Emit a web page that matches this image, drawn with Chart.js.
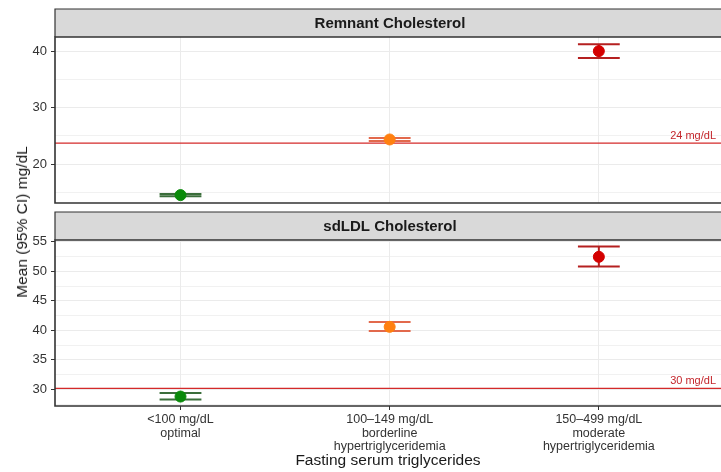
<!DOCTYPE html>
<html>
<head>
<meta charset="utf-8">
<script src="https://cdn.jsdelivr.net/npm/chart.js@4.4.0/dist/chart.umd.min.js"></script>
<style>
  html, body { margin:0; padding:0; background:#fff; }
  #wrap { position:relative; width:721px; height:472px; overflow:hidden; font-family:"Liberation Sans", Arial, sans-serif; }
  #topBox { position:absolute; left:0; top:0; width:721px; height:207px; }
  #botBox { position:absolute; left:0; top:207px; width:721px; height:265px; }
  #ytitle { position:absolute; left:22px; top:222px; transform:translate(-50%,-50%) rotate(-90deg); font-size:15.5px; color:#1a1a1a; white-space:nowrap; }
</style>
</head>
<body>
<div id="wrap">
  <div id="topBox"><canvas id="topChart"></canvas></div>
  <div id="botBox"><canvas id="botChart"></canvas></div>
  <div id="ytitle">Mean (95% CI) mg/dL</div>
</div>
<script>
// categories (x = 1, 2, 3)
const categories = [
  ['<100 mg/dL', 'optimal'],
  ['100\u2013149 mg/dL', 'borderline', 'hypertriglyceridemia'],
  ['150\u2013499 mg/dL', 'moderate', 'hypertriglyceridemia']
];
const pointColors = ['#0a8a0a', '#ff8010', '#d40000'];
const barColors = ['#3b6e3b', '#e2694c', '#b52020'];

// Remnant cholesterol: mean, lower, upper
const remnantMean = [14.5, 24.35, 40.0];
const remnantLow  = [14.3, 24.1, 38.8];
const remnantHigh = [14.7, 24.6, 41.2];
const remnantRef = 23.7;
const remnantRefLabel = '24 mg/dL';

// sdLDL cholesterol
const sdldlMean = [28.8, 40.6, 52.45];
const sdldlLow  = [28.3, 39.9, 50.8];
const sdldlHigh = [29.4, 41.4, 54.2];
const sdldlRef = 30.2;
const sdldlRefLabel = '30 mg/dL';

const FONT = '"Liberation Sans", Arial, sans-serif';

function isMajor(v, major) {
  return Math.abs(v / major - Math.round(v / major)) < 1e-6;
}

// strip, panel border, reference line, error bars
const panelPlugin = {
  id: 'panel',
  beforeDatasetsDraw(chart, args, opts) {
    const ctx = chart.ctx, a = chart.chartArea;
    const xs = chart.scales.x, ys = chart.scales.y;
    ctx.save();
    // reference line
    const ry = ys.getPixelForValue(opts.ref);
    ctx.strokeStyle = '#d42a2a'; ctx.lineWidth = 1.2;
    ctx.beginPath(); ctx.moveTo(a.left, ry); ctx.lineTo(a.right, ry); ctx.stroke();
    ctx.fillStyle = '#c4262c';
    ctx.font = '11px ' + FONT;
    ctx.textAlign = 'right'; ctx.textBaseline = 'alphabetic';
    ctx.fillText(opts.refLabel, a.right - 5, ry - 4);
    // error bars
    opts.mean.forEach((m, i) => {
      const x = xs.getPixelForValue(i + 1);
      const hw = xs.getPixelForValue(1.1) - xs.getPixelForValue(1);
      const yl = ys.getPixelForValue(opts.low[i]);
      const yh = ys.getPixelForValue(opts.high[i]);
      ctx.strokeStyle = barColors[i]; ctx.lineWidth = 2;
      ctx.beginPath();
      ctx.moveTo(x - hw, yh); ctx.lineTo(x + hw, yh);
      ctx.moveTo(x - hw, yl); ctx.lineTo(x + hw, yl);
      ctx.moveTo(x, yh); ctx.lineTo(x, yl);
      ctx.stroke();
    });
    ctx.restore();
  },
  afterDraw(chart, args, opts) {
    const ctx = chart.ctx, a = chart.chartArea;
    ctx.save();
    // strip
    const sTop = a.top - opts.stripH;
    ctx.fillStyle = '#d9d9d9';
    ctx.fillRect(a.left, sTop, a.right - a.left + 10, opts.stripH);
    ctx.strokeStyle = '#333'; ctx.lineWidth = 1.2;
    ctx.beginPath();
    ctx.moveTo(a.right + 10, sTop); ctx.lineTo(a.left, sTop); ctx.lineTo(a.left, a.top);
    ctx.stroke();
    ctx.fillStyle = '#1a1a1a';
    ctx.font = 'bold 15px ' + FONT;
    ctx.textAlign = 'center'; ctx.textBaseline = 'middle';
    ctx.fillText(opts.title, (a.left + a.right + 4) / 2, sTop + opts.stripH / 2 + 1);
    // panel border
    ctx.lineWidth = 1.6;
    ctx.beginPath();
    ctx.moveTo(a.right + 10, a.top); ctx.lineTo(a.left, a.top);
    ctx.lineTo(a.left, a.bottom); ctx.lineTo(a.right + 10, a.bottom);
    ctx.stroke();
    ctx.restore();
  }
};

function makeChart(id, cfg) {
  const pts = cfg.mean.map((v, i) => ({ x: i + 1, y: v }));
  return new Chart(document.getElementById(id), {
    type: 'scatter',
    data: { datasets: [{
      data: pts,
      pointRadius: 5.5,
      pointHoverRadius: 5.5,
      pointBackgroundColor: pointColors,
      pointBorderColor: pointColors,
      pointBorderWidth: 1
    }]},
    options: {
      responsive: true,
      maintainAspectRatio: false,
      animation: false,
      events: [],
      layout: { autoPadding: false, padding: { top: cfg.padTop, right: 0, bottom: cfg.padBottom, left: 0 } },
      plugins: {
        legend: { display: false },
        tooltip: { enabled: false },
        panel: { title: cfg.title, stripH: 28, ref: cfg.ref, refLabel: cfg.refLabel,
                 mean: cfg.mean, low: cfg.low, high: cfg.high }
      },
      scales: {
        x: {
          type: 'linear', min: 0.4, max: 3.584,
          display: true,
          afterBuildTicks: s => { s.ticks = [{ value: 1 }, { value: 2 }, { value: 3 }]; },
          afterFit: s => { s.height = cfg.showX ? 66 : 0; s.paddingLeft = 0; s.paddingRight = 0; },
          grid: { color: '#ebebeb', lineWidth: 1, drawTicks: cfg.showX, tickLength: 4, tickColor: '#333' },
          border: { display: false },
          ticks: {
            display: cfg.showX,
            padding: 3,
            color: '#333',
            font: { family: FONT, size: 12.5, lineHeight: 1.08 },
            maxRotation: 0,
            autoSkip: false,
            callback: v => categories[v - 1] || ''
          },
          title: {
            display: cfg.showX,
            text: 'Fasting serum triglycerides',
            color: '#1a1a1a',
            font: { family: FONT, size: 15.5 },
            padding: { top: 0, bottom: 2 }
          }
        },
        y: {
          min: cfg.ymin, max: cfg.ymax,
          afterFit: s => { s.width = 55; s.paddingTop = 0; s.paddingBottom = 0; },
          grid: {
            color: '#ebebeb',
            lineWidth: c => (c.tick && isMajor(c.tick.value, cfg.major)) ? 1 : 0.7,
            tickLength: 4,
            tickColor: c => (c.tick && isMajor(c.tick.value, cfg.major)) ? '#333' : 'rgba(0,0,0,0)'
          },
          border: { display: false },
          ticks: {
            stepSize: cfg.major / 2,
            includeBounds: false,
            autoSkip: false,
            padding: 4,
            color: '#333',
            font: { family: FONT, size: 13 },
            callback: v => isMajor(v, cfg.major) ? Math.round(v) : ''
          }
        }
      }
    },
    plugins: [panelPlugin]
  });
}

makeChart('topChart', {
  title: 'Remnant Cholesterol',
  mean: remnantMean, low: remnantLow, high: remnantHigh,
  ref: remnantRef, refLabel: remnantRefLabel,
  ymin: 13.1, ymax: 42.5, major: 10,
  padTop: 37, padBottom: 4, showX: false
});

makeChart('botChart', {
  title: 'sdLDL Cholesterol',
  mean: sdldlMean, low: sdldlLow, high: sdldlHigh,
  ref: sdldlRef, refLabel: sdldlRefLabel,
  ymin: 27.2, ymax: 55.3, major: 5,
  padTop: 33, padBottom: 0, showX: true
});
</script>
</body>
</html>
